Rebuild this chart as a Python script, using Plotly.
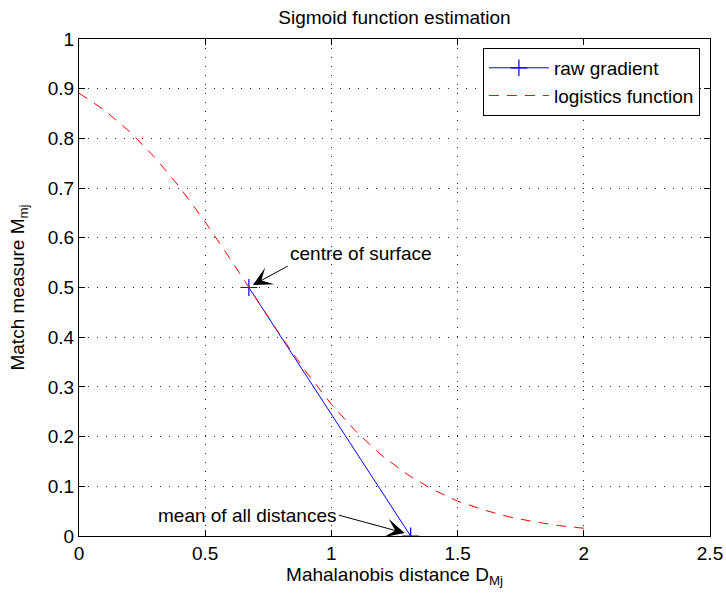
import plotly.graph_objects as go

# ---- data ----
gradient_x = [0.673, 1.314]
gradient_y = [0.5, 0.0]

logistic_x = [0.0, 0.1, 0.2, 0.3, 0.4, 0.5, 0.6, 0.7, 0.8, 0.9, 1.0,
              1.1, 1.2, 1.3, 1.4, 1.5, 1.6, 1.7, 1.8, 1.9, 2.0, 2.03]
logistic_y = [0.891, 0.857, 0.814, 0.762, 0.701, 0.632, 0.557, 0.479, 0.402,
              0.330, 0.265, 0.209, 0.162, 0.124, 0.094, 0.070, 0.053, 0.039,
              0.029, 0.021, 0.016, 0.014]

x_ticks = [0, 0.5, 1, 1.5, 2, 2.5]
y_ticks = [0, 0.1, 0.2, 0.3, 0.4, 0.5, 0.6, 0.7, 0.8, 0.9, 1]

FONT = "Liberation Sans, Arial, Helvetica, sans-serif"
FS = 19

fig = go.Figure()
fig.add_trace(go.Scatter(
    x=gradient_x, y=gradient_y, mode="lines+markers", name="raw gradient",
    line=dict(color="#0000ff", width=1),
    marker=dict(symbol="cross-thin", size=12, line=dict(color="#0000ff", width=1.2)),
))
fig.add_trace(go.Scatter(
    x=logistic_x, y=logistic_y, mode="lines", name="logistics function",
    line=dict(color="#ff0000", width=1, dash="10px,8px"),
))

axis_common = dict(
    showline=True, linecolor="black", linewidth=1.3, mirror="ticks",
    ticks="inside", ticklen=6, tickwidth=1, tickcolor="black",
    showgrid=True, gridcolor="#222222", gridwidth=1, griddash="1px,8px",
    zeroline=False, tickfont=dict(family=FONT, size=FS, color="black"),
)

fig.update_xaxes(range=[0, 2.5], tickvals=x_ticks, ticktext=[f"{v:g}" for v in x_ticks],
                 title=dict(text="Mahalanobis distance D<sub>Mj</sub>",
                            font=dict(family=FONT, size=FS, color="black"), standoff=4),
                 **axis_common)
fig.update_yaxes(range=[0, 1], tickvals=y_ticks, ticktext=[f"{v:g}" for v in y_ticks],
                 title=dict(text="Match measure M<sub>mj</sub>",
                            font=dict(family=FONT, size=FS, color="black"), standoff=17),
                 **axis_common)

annotations = [
    dict(x=0.689, y=0.505, ax=0.827, ay=0.543, axref="x", ayref="y", xref="x", yref="y",
         text="centre of surface", xanchor="left", yanchor="bottom",
         showarrow=True, arrowhead=3, arrowsize=3.2, arrowwidth=1,
         arrowcolor="black", standoff=0, startstandoff=0,
         font=dict(family=FONT, size=FS, color="black")),
    dict(x=1.290, y=0.006, ax=1.029, ay=0.042, axref="x", ayref="y", xref="x", yref="y",
         text="mean of all distances", xanchor="right", yanchor="middle",
         showarrow=True, arrowhead=3, arrowsize=3.2, arrowwidth=1,
         arrowcolor="black", standoff=0, startstandoff=0,
         font=dict(family=FONT, size=FS, color="black")),
]

fig.update_layout(
    width=726, height=596,
    margin=dict(l=79, r=16, t=39, b=60, autoexpand=False),
    paper_bgcolor="white", plot_bgcolor="white",
    font=dict(family=FONT, size=FS, color="black"),
    title=dict(text="Sigmoid function estimation", x=0.5, xref="paper",
               y=1 - 17 / 596, yref="container", xanchor="center", yanchor="middle",
               font=dict(family=FONT, size=FS, color="black")),
    legend=dict(x=0.984, y=0.982, xanchor="right", yanchor="top",
                bgcolor="white", bordercolor="black", borderwidth=1,
                itemwidth=60, tracegroupgap=0,
                font=dict(family=FONT, size=FS, color="black")),
    annotations=annotations,
    showlegend=True,
)

fig.write_html("out.html")
